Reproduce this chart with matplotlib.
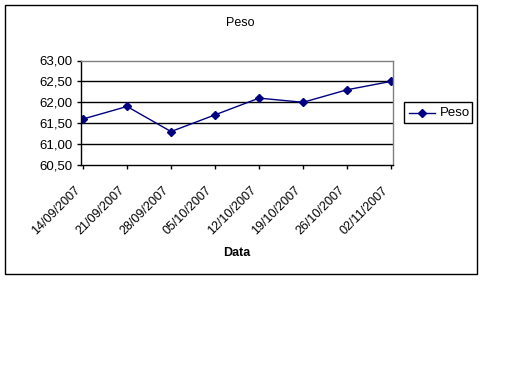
import matplotlib
matplotlib.use("Agg")
import matplotlib.pyplot as plt
import matplotlib.patches as mpatches
import matplotlib.transforms as mtransforms
from matplotlib.ticker import FuncFormatter
from matplotlib.lines import Line2D

# ---- data ----
dates = ["14/09/2007", "21/09/2007", "28/09/2007", "05/10/2007",
         "12/10/2007", "19/10/2007", "26/10/2007", "02/11/2007"]
peso = [61.6, 61.9, 61.3, 61.7, 62.1, 62.0, 62.3, 62.5]
y_ticks = [60.5, 61.0, 61.5, 62.0, 62.5, 63.0]

W, H = 512, 384
line_color = "#000080"
plt.rcParams["font.family"] = ["Liberation Sans", "DejaVu Sans"]

fig = plt.figure(figsize=(W / 100, H / 100), dpi=100)
fig.patch.set_facecolor("white")


def px(x0, y0, x1, y1):
    """pixel box (top-left origin) -> figure fraction rect"""
    return [x0 / W, 1 - y1 / H, (x1 - x0) / W, (y1 - y0) / H]


# outer chart border
fig.add_artist(mpatches.Rectangle((5 / W, 1 - 273.5 / H), 471.5 / W, 268.5 / H,
                                  transform=fig.transFigure, fill=False,
                                  edgecolor="black", linewidth=1.0))

ax = fig.add_axes(px(80.5, 60.5, 393.3, 165))
x = list(range(len(dates)))
ax.plot(x, peso, color=line_color, linewidth=1.0, marker="D", markersize=4,
        markerfacecolor=line_color, markeredgecolor=line_color)

ax.set_xlim(-0.057, len(dates) - 1 + 0.05)
ax.set_ylim(y_ticks[0], y_ticks[-1])
ax.set_yticks(y_ticks)
ax.yaxis.set_major_formatter(FuncFormatter(lambda v, _: f"{v:.2f}".replace(".", ",")))
for v in y_ticks[1:-1]:
    ax.axhline(v, color="black", linewidth=1.0, zorder=0)

ax.set_xticks(x)
ax.set_xticklabels(dates, rotation=45, ha="right", rotation_mode="anchor", fontsize=9)
ax.tick_params(axis="y", labelsize=9.5, direction="out", length=3, width=1, pad=3)
ax.tick_params(axis="x", direction="out", length=3, width=1, pad=11)
shift = mtransforms.ScaledTranslation(-9 / 100, 0, fig.dpi_scale_trans)
for lab in ax.get_xticklabels():
    lab.set_transform(lab.get_transform() + shift)

for s in ("top", "right"):
    ax.spines[s].set_color("#808080")
    ax.spines[s].set_linestyle((0, (1, 1)))
    ax.spines[s].set_linewidth(1.0)
for s in ("left", "bottom"):
    ax.spines[s].set_color("black")
    ax.spines[s].set_linewidth(1.0)

fig.text(240 / W, 1 - 23 / H, "Peso", ha="center", va="center", fontsize=9)
fig.text(237 / W, 1 - 252.5 / H, "Data", ha="center", va="center",
         fontsize=9, fontweight="bold")

# legend
fig.add_artist(mpatches.Rectangle((404 / W, 1 - 123 / H), 68 / W, 21 / H,
                                  transform=fig.transFigure, fill=False,
                                  edgecolor="black", linewidth=1.0))
fig.add_artist(Line2D([409 / W, 435 / W], [1 - 112.5 / H, 1 - 112.5 / H],
                      transform=fig.transFigure, color=line_color, linewidth=1.0))
fig.add_artist(Line2D([422 / W], [1 - 112.5 / H], transform=fig.transFigure,
                      color=line_color, marker="D", markersize=4, linestyle="none"))
fig.text(440 / W, 1 - 112.5 / H, "Peso", ha="left", va="center", fontsize=9.5)

fig.savefig("out.png", dpi=100, facecolor="white")
